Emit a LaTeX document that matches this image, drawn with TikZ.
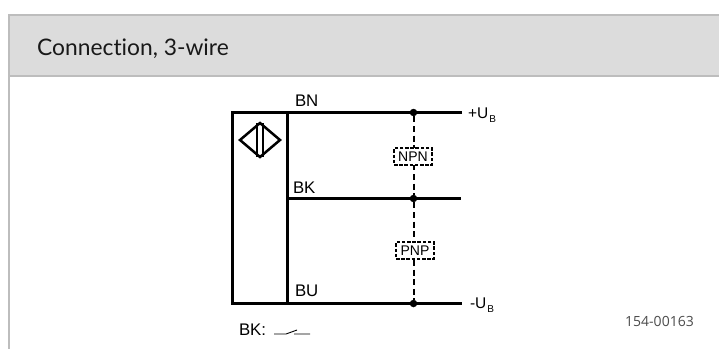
\documentclass[tikz,border=0pt]{standalone}
\usepackage{fontspec}
\setmainfont{Liberation Sans}
\newfontfamily\titlefont[Ligatures=NoCommon]{Lato}
\newfontfamily\codefont{Open Sans}
\definecolor{hdr}{HTML}{DCDCDC}
\definecolor{hdrline}{HTML}{BDBDBD}
\definecolor{ink}{HTML}{000000}
\tikzset{
 wire/.style={line width=2.4pt,draw=black},
 drop/.style={line width=2pt,draw=black,dash pattern=on 6pt off 3.6pt},
 lab/.style={inner sep=0pt,outer sep=0pt,anchor=base west,font=\fontsize{16.8}{18}\selectfont,text=ink},
 tag/.style={draw=black,fill=white,line width=1.7pt,dash pattern=on 3.6pt off 1.6pt,minimum width=38pt,minimum height=16.5pt,inner sep=0pt,font=\fontsize{14}{16}\selectfont,text=ink},
 junction/.style={circle,fill=black,inner sep=0pt,minimum size=7.5pt},
}
\begin{document}
\begin{tikzpicture}[x=1pt,y=-1pt]
\useasboundingbox (0,0) rectangle (719,349);
\fill[white] (0,0) rectangle (719,349);
\fill[hdr] (8.5,15) rectangle (719,76);
\draw[hdrline,line width=2pt] (719,15) -- (8.5,15) -- (8.5,349);
\draw[hdrline,line width=2pt] (8.5,76) -- (719,76);
\node[inner sep=0pt,anchor=base west,font=\fontsize{22.8}{26}\selectfont,text=black!90] (title) at (37,55) {\titlefont Connection, 3-wire};
% sensor
\coordinate (tl) at (232.5,112.5);
\coordinate (tm) at (287.5,112.5);
\coordinate (bl) at (232.5,303.5);
\coordinate (bm) at (287.5,303.5);
\coordinate (mm) at (287.5,198.5);
\coordinate (tr) at (462,112.5);
\coordinate (mr) at (460.5,198.5);
\coordinate (br) at (462,303.5);
\node[junction] (j1) at (413.5,112.5) {};
\node[junction] (j2) at (413.5,198.5) {};
\node[junction] (j3) at (413.5,303.5) {};
\draw[wire] (tr) -- (tl) -- (bl) -- (br);
\draw[wire] (tm) -- (bm);
\draw[wire] (mm) -- (mr);
\draw[drop] (j1) -- (j2);
\draw[drop] (j2) -- (j3);
\node[tag] (npn) at (413,156.5) {NPN};
\node[tag] (pnp) at (415,250.5) {PNP};
% symbol
\draw[line width=2.5pt,line join=miter] (260,123) -- (280,140) -- (260,157) -- (240,140) -- cycle;
\draw[line width=2.3pt] (257,123) -- (257,157) (263,123) -- (263,157);
% labels
\node[lab] (bn) at (295,106.5) {BN};
\node[lab] (bk) at (293,193) {BK};
\node[lab] (bu) at (295,296.5) {BU};
\node[lab,font=\fontsize{15.5}{18}\selectfont] (pu) at (468,118) {+U\kern1pt\raisebox{-4pt}{\fontsize{10}{11}\selectfont B}};
\node[lab,font=\fontsize{15.5}{18}\selectfont] (mu) at (470,308) {-U\kern1pt\raisebox{-4pt}{\fontsize{10}{11}\selectfont B}};
\node[lab] (bkk) at (239,335) {BK:};
% switch symbol
\coordinate (s1) at (274,334);
\coordinate (s2) at (286,334);
\coordinate (s3) at (297,330);
\coordinate (s4) at (294,334);
\coordinate (s5) at (310,334);
\draw[line width=0.9pt] (s1) -- (s2) -- (s3) (s4) -- (s5);
\node[inner sep=0pt,anchor=base west,font=\fontsize{14}{16}\selectfont,text=black!70] (code) at (625,326) {\codefont 154-00163};
\end{tikzpicture}
\end{document}
